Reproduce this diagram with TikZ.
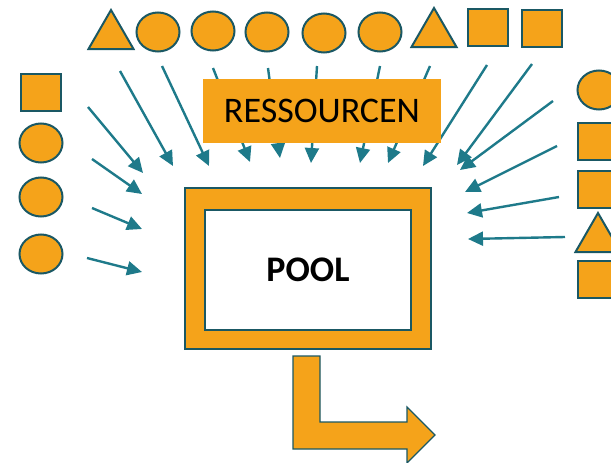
\documentclass[tikz,border=0pt]{standalone}
\usepackage{fontspec}
\setmainfont{Carlito}
\usetikzlibrary{arrows.meta,shapes.geometric}
\definecolor{resorange}{RGB}{245,163,26}
\definecolor{resedge}{RGB}{26,88,100}
\definecolor{feedteal}{RGB}{30,122,138}

\begin{document}
\begin{tikzpicture}[x=1pt,y=-1pt,
  res/.style={fill=resorange,draw=resedge,line width=2pt,inner sep=0pt},
  ressq/.style={res,rectangle,minimum width=40pt,minimum height=37pt},
  rescirc/.style={res,ellipse,minimum width=43pt,minimum height=39pt},
  restri/.style={res,regular polygon,regular polygon sides=3,minimum size=52pt},
  feed/.style={draw=feedteal,line width=2.4pt,-{Triangle[length=15pt,width=14pt]}}]
  \useasboundingbox (0,0) rectangle (611,463);
  % top row of resources
  \node[restri]  (t1) at (111,36) {};
  \node[rescirc] (t2) at (158,32) {};
  \node[rescirc] (t3) at (213,31) {};
  \node[rescirc] (t4) at (267,32) {};
  \node[rescirc] (t5) at (324,33) {};
  \node[rescirc] (t6) at (380,32) {};
  \node[restri]  (t7) at (434,34) {};
  \node[ressq]   (t8) at (487.5,27.5) {};
  \node[ressq]   (t9) at (541.5,28.5) {};
  % left column
  \node[ressq]   (l1) at (41,92.5) {};
  \node[rescirc] (l2) at (41,143) {};
  \node[rescirc] (l3) at (41,197) {};
  \node[rescirc] (l4) at (41,254) {};
  % right column, cut at the page edge
  \node[rescirc] (r1) at (599,90) {};
  \node[ressq]   (r2) at (598,141.5) {};
  \node[ressq]   (r3) at (598,189) {};
  \node[restri]  (r4) at (598,239) {};
  \node[ressq]   (r5) at (598,279.5) {};
  % inflow arrows towards the pool
  \foreach \i/\sx/\sy/\ex/\ey in {1/88/107/143/173,2/92/159/142/194,3/92/208/142/229,
      4/87/258/142/272,5/120/71/173/166,6/162/66/209/166,7/213/68/250/162,
      8/268/68/280/158,9/317/66/311/163,10/380/66/360/163,11/430/66/388/163,
      12/487/65/423/166,13/532/64/457/165,14/553/101/460/170,15/557/146/465/192,
      16/559/197/467/213,17/565/237/468/239}{
    \coordinate (from\i) at (\sx,\sy);
    \coordinate (to\i) at (\ex,\ey);
    \draw[feed] (from\i) -- (to\i);
  }
  % label box
  \node[fill=resorange,minimum width=238pt,minimum height=64pt,inner sep=0pt,
    font=\fontsize{36}{40}\selectfont] (label) at (322,111) {RESSOURCEN};
  % the pool
  \node[fill=resorange,draw=resedge,line width=1.2pt,minimum width=246pt,
    minimum height=161pt,inner sep=0pt] (pool) at (308,268.5) {};
  \node[fill=white,draw=resedge,line width=1.2pt,minimum width=206pt,
    minimum height=120pt,inner sep=0pt,font=\fontsize{36}{40}\selectfont\bfseries]
    (poolin) at (308,270) {POOL};
  % outflow
  \draw[fill=resorange,draw=resedge,line width=1.2pt]
    (293,356) -- (320,356) -- (320,422) -- (407,422) -- (407,407) -- (435,435)
    -- (407,463) -- (407,449) -- (293,449) -- cycle;
\end{tikzpicture}
\end{document}
